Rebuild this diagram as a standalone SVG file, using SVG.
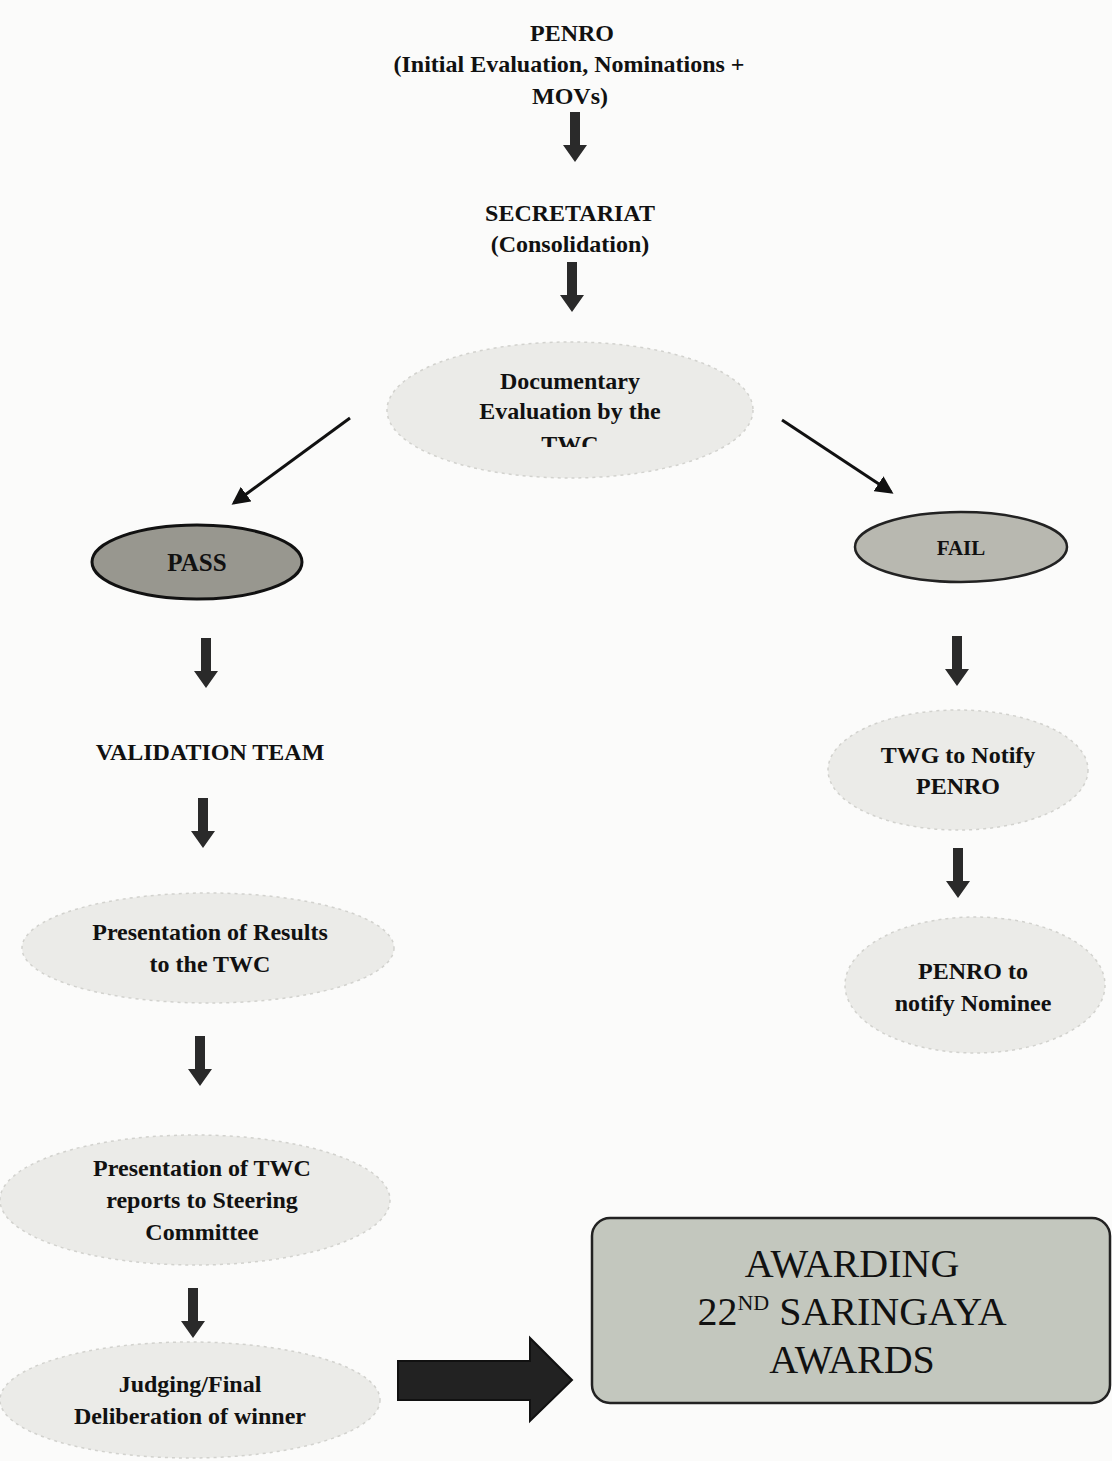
<svg xmlns="http://www.w3.org/2000/svg" width="1112" height="1461" viewBox="0 0 1112 1461">
<defs>
<style>
.t{font-family:"Liberation Serif","Times New Roman",serif;font-weight:bold;font-size:24px;fill:#111;text-anchor:middle}
.big{font-size:40px;font-weight:normal}
.soft{fill:#ebebe8;stroke:#d2d2ce;stroke-width:1.5;stroke-dasharray:3 4}
.dark{fill:#2a2a2a}
.thin{stroke:#111;stroke-width:3;fill:none}
</style>
<marker id="ah" markerWidth="6" markerHeight="6" refX="5" refY="3" orient="auto" markerUnits="strokeWidth">
<path d="M0,0 L6,3 L0,6 Z" fill="#111"/>
</marker>
<path id="down" d="M-5,0 H5 V33 H12 L0,50 L-12,33 H-5 Z"/>
<clipPath id="twcclip"><rect x="380" y="340" width="380" height="107"/></clipPath>
</defs>
<rect width="1112" height="1461" fill="#fbfbfa"/>

<g id="connectors">
<use href="#down" x="575" y="112" class="dark"/>
<use href="#down" x="572" y="262" class="dark"/>
<line x1="350" y1="418" x2="234" y2="503" class="thin" marker-end="url(#ah)"/>
<line x1="782" y1="420" x2="891" y2="492" class="thin" marker-end="url(#ah)"/>
<use href="#down" x="206" y="638" class="dark"/>
<use href="#down" x="203" y="798" class="dark"/>
<use href="#down" x="200" y="1036" class="dark"/>
<use href="#down" x="193" y="1288" class="dark"/>
<use href="#down" x="957" y="636" class="dark"/>
<use href="#down" x="958" y="848" class="dark"/>
<path d="M398,1361 H530 V1338 L572,1380 L530,1421 V1400 H398 Z" fill="#222" stroke="#111" stroke-width="2"/>
</g>

<g id="penro">
<text class="t" x="572" y="41">PENRO</text>
<text class="t" x="569" y="72">(Initial Evaluation, Nominations +</text>
<text class="t" x="570" y="104">MOVs)</text>
</g>

<g id="secretariat">
<text class="t" x="570" y="221">SECRETARIAT</text>
<text class="t" x="570" y="252">(Consolidation)</text>
</g>

<g id="documentary">
<ellipse cx="570" cy="410" rx="183" ry="68" class="soft"/>
<text class="t" x="570" y="389">Documentary</text>
<text class="t" x="570" y="419">Evaluation by the</text>
<text class="t" x="570" y="452" clip-path="url(#twcclip)">TWC</text>
</g>

<g id="pass">
<ellipse cx="197" cy="562" rx="105" ry="37" fill="#98978f" stroke="#111" stroke-width="3"/>
<text class="t" x="197" y="571" style="font-size:25px">PASS</text>
</g>

<g id="fail">
<ellipse cx="961" cy="547" rx="106" ry="35" fill="#b8b8b0" stroke="#222" stroke-width="2.5"/>
<text class="t" x="961" y="555" style="font-size:21px">FAIL</text>
</g>

<g id="validation">
<text class="t" x="210" y="760">VALIDATION TEAM</text>
</g>

<g id="presentation-results">
<ellipse cx="208" cy="948" rx="186" ry="55" class="soft"/>
<text class="t" x="210" y="940">Presentation of Results</text>
<text class="t" x="210" y="972">to the TWC</text>
</g>

<g id="presentation-twc">
<ellipse cx="195" cy="1200" rx="195" ry="65" class="soft"/>
<text class="t" x="202" y="1176">Presentation of TWC</text>
<text class="t" x="202" y="1208">reports to Steering</text>
<text class="t" x="202" y="1240">Committee</text>
</g>

<g id="judging">
<ellipse cx="190" cy="1400" rx="190" ry="58" class="soft"/>
<text class="t" x="190" y="1392">Judging/Final</text>
<text class="t" x="190" y="1424">Deliberation of winner</text>
</g>

<g id="twg">
<ellipse cx="958" cy="770" rx="130" ry="60" class="soft"/>
<text class="t" x="958" y="763">TWG to Notify</text>
<text class="t" x="958" y="794">PENRO</text>
</g>

<g id="penro-notify">
<ellipse cx="975" cy="985" rx="130" ry="68" class="soft"/>
<text class="t" x="973" y="979">PENRO to</text>
<text class="t" x="973" y="1011">notify Nominee</text>
</g>

<g id="awarding">
<rect x="592" y="1218" width="518" height="185" rx="18" fill="#c3c7be" stroke="#222" stroke-width="2.5"/>
<text class="t big" x="852" y="1277">AWARDING</text>
<text class="t big" x="852" y="1325">22<tspan font-size="22" dy="-15">ND</tspan><tspan dy="15"> SARINGAYA</tspan></text>
<text class="t big" x="852" y="1373">AWARDS</text>
</g>
</svg>
